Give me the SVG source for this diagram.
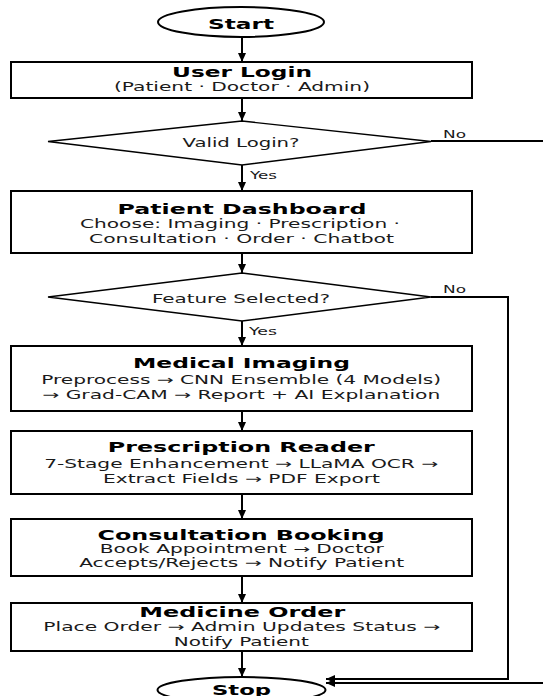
<svg xmlns="http://www.w3.org/2000/svg" width="543" height="696" viewBox="0 0 543 696">
<defs>
<marker id="ah" markerUnits="userSpaceOnUse" markerWidth="10" markerHeight="10" refX="9" refY="5" orient="auto">
<path d="M0,1 L9,5 L0,9 z" fill="#000"/>
</marker>
<style>
.shape{fill:#fff;stroke:#000;stroke-width:2}
.dia{fill:#fff;stroke:#000;stroke-width:1.3}
.t{font-family:"DejaVu Sans",sans-serif;font-weight:bold;font-size:14.5px;fill:#000;text-anchor:middle}
.b{font-family:"DejaVu Sans",sans-serif;font-size:12.5px;fill:#1a1a1a;text-anchor:middle}
.q{font-family:"DejaVu Sans",sans-serif;font-size:13px;fill:#1a1a1a;text-anchor:middle}
.l{font-family:"DejaVu Sans",sans-serif;font-size:11px;fill:#1a1a1a}
.c{fill:none;stroke:#000;stroke-width:2}
</style>
</defs>
<rect width="543" height="696" fill="#fff"/>
<g id="connectors">
<line class="c" x1="242" y1="37" x2="242" y2="62" marker-end="url(#ah)"/>
<line class="c" x1="242" y1="98" x2="242" y2="121" marker-end="url(#ah)"/>
<line class="c" x1="242" y1="165" x2="242" y2="191" marker-end="url(#ah)"/>
<line class="c" x1="242" y1="253" x2="242" y2="273" marker-end="url(#ah)"/>
<line class="c" x1="242" y1="321" x2="242" y2="346" marker-end="url(#ah)"/>
<line class="c" x1="242" y1="411" x2="242" y2="431" marker-end="url(#ah)"/>
<line class="c" x1="242" y1="494" x2="242" y2="519" marker-end="url(#ah)"/>
<line class="c" x1="242" y1="576" x2="242" y2="603" marker-end="url(#ah)"/>
<line class="c" x1="242" y1="651" x2="242" y2="677" marker-end="url(#ah)"/>
<path class="c" d="M431,297 H508 V679 H326" marker-end="url(#ah)"/>
<path class="c" d="M431,141 H560 V683 H326" marker-end="url(#ah)"/>
<text class="l" x="443" y="137.5" textLength="23" lengthAdjust="spacingAndGlyphs">No</text>
<text class="l" x="250" y="179" textLength="27" lengthAdjust="spacingAndGlyphs">Yes</text>
<text class="l" x="443" y="292.5" textLength="23" lengthAdjust="spacingAndGlyphs">No</text>
<text class="l" x="249" y="335" textLength="28" lengthAdjust="spacingAndGlyphs">Yes</text>
</g>
<g id="start">
<ellipse class="shape" cx="241" cy="22" rx="83" ry="15"/>
<text class="t" x="241" y="29" textLength="66" lengthAdjust="spacingAndGlyphs">Start</text>
</g>
<g id="login">
<rect class="shape" x="11" y="62" width="461" height="36"/>
<text class="t" x="242" y="76.5" textLength="140" lengthAdjust="spacingAndGlyphs">User Login</text>
<text class="b" x="242" y="91" textLength="256" lengthAdjust="spacingAndGlyphs">(Patient · Doctor · Admin)</text>
</g>
<g id="valid">
<polygon class="dia" points="242,121 431,141.5 242,165 48,141.5"/>
<text class="q" x="241" y="147" textLength="117" lengthAdjust="spacingAndGlyphs">Valid Login?</text>
</g>
<g id="dashboard">
<rect class="shape" x="11" y="191" width="461" height="62"/>
<text class="t" x="242" y="213.5" textLength="249" lengthAdjust="spacingAndGlyphs">Patient Dashboard</text>
<text class="b" x="240" y="228" textLength="320" lengthAdjust="spacingAndGlyphs">Choose: Imaging · Prescription ·</text>
<text class="b" x="241.5" y="243" textLength="305" lengthAdjust="spacingAndGlyphs">Consultation · Order · Chatbot</text>
</g>
<g id="feature">
<polygon class="dia" points="242,273 431,297 242,321 48,297"/>
<text class="q" x="241" y="303" textLength="178" lengthAdjust="spacingAndGlyphs">Feature Selected?</text>
</g>
<g id="imaging">
<rect class="shape" x="11" y="346" width="461" height="65"/>
<text class="t" x="241.5" y="368" textLength="217" lengthAdjust="spacingAndGlyphs">Medical Imaging</text>
<text class="b" x="241.2" y="384" textLength="400" lengthAdjust="spacingAndGlyphs">Preprocess → CNN Ensemble (4 Models)</text>
<text class="b" x="241.3" y="398.8" textLength="398" lengthAdjust="spacingAndGlyphs">→ Grad-CAM → Report + AI Explanation</text>
</g>
<g id="prescription">
<rect class="shape" x="11" y="431" width="461" height="63"/>
<text class="t" x="241.3" y="452" textLength="267" lengthAdjust="spacingAndGlyphs">Prescription Reader</text>
<text class="b" x="241.2" y="467.5" textLength="394" lengthAdjust="spacingAndGlyphs">7-Stage Enhancement → LLaMA OCR →</text>
<text class="b" x="241.5" y="483" textLength="277" lengthAdjust="spacingAndGlyphs">Extract Fields → PDF Export</text>
</g>
<g id="consultation">
<rect class="shape" x="11" y="519" width="461" height="57"/>
<text class="t" x="241" y="539.5" textLength="287" lengthAdjust="spacingAndGlyphs" style="font-size:14px">Consultation Booking</text>
<text class="b" x="241.7" y="552.5" textLength="284" lengthAdjust="spacingAndGlyphs" style="font-size:12px">Book Appointment → Doctor</text>
<text class="b" x="241.7" y="566.5" textLength="325" lengthAdjust="spacingAndGlyphs">Accepts/Rejects → Notify Patient</text>
</g>
<g id="medicine">
<rect class="shape" x="11" y="603" width="461" height="48"/>
<text class="t" x="242.3" y="616.5" textLength="206" lengthAdjust="spacingAndGlyphs">Medicine Order</text>
<text class="b" x="241.8" y="630.7" textLength="397" lengthAdjust="spacingAndGlyphs">Place Order → Admin Updates Status →</text>
<text class="b" x="241.3" y="645.5" textLength="135" lengthAdjust="spacingAndGlyphs">Notify Patient</text>
</g>
<g id="stop">
<ellipse class="shape" cx="241.5" cy="690" rx="84" ry="13"/>
<text class="t" x="241.5" y="694.5" textLength="59" lengthAdjust="spacingAndGlyphs">Stop</text>
</g>
</svg>
